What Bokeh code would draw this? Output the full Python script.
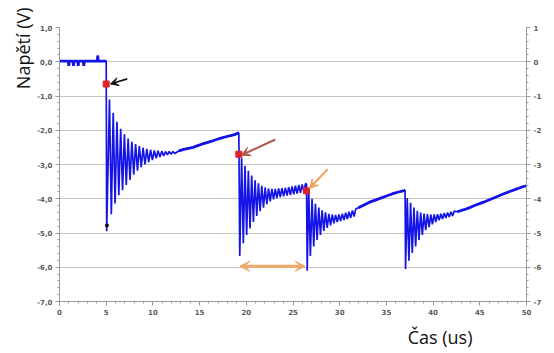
from bokeh.plotting import figure
from bokeh.models import Range1d, LinearAxis, FixedTicker, Arrow, VeeHead, Title
from bokeh.embed import file_html
from bokeh.resources import INLINE

# ---- data (time in us, voltage in V) ----
t_pre = [0.0, 0.95, 1.0, 1.05, 1.45, 1.5, 1.55, 1.95, 2.0, 2.05, 2.55, 2.6, 2.65, 4.05, 4.1, 4.15, 5.0]
v_pre = [0.02, 0.02, -0.12, 0.02, 0.02, -0.12, 0.02, 0.02, -0.12, 0.02, 0.02, -0.12, 0.02, 0.02, 0.18, 0.02, 0.02]

e1_t = [5.05, 5.35, 5.55, 5.75, 5.95, 6.15, 6.35, 6.55, 6.75, 6.95, 7.15, 7.35, 7.55, 7.75, 7.95, 8.15, 8.35,
        8.55, 8.75, 8.95, 9.15, 9.35, 9.55, 9.75, 9.95, 10.15, 10.35, 10.55, 10.75, 10.95, 11.15, 11.35,
        11.55, 11.75, 11.95, 12.15, 12.35]
e1_v = [-4.95, -1.10, -4.45, -1.49, -4.14, -1.75, -3.90, -1.96, -3.75, -2.12, -3.60, -2.24, -3.45, -2.34,
        -3.30, -2.40, -3.18, -2.46, -3.08, -2.51, -3.00, -2.54, -2.93, -2.57, -2.87, -2.59, -2.82, -2.60,
        -2.78, -2.61, -2.75, -2.62, -2.72, -2.62, -2.70, -2.62, -2.68]

r1_t = [12.8, 13.3, 13.8, 14.3, 14.8, 15.3, 15.8, 16.3, 16.8, 17.3, 17.8, 18.3, 18.8, 19.15, 19.2]
r1_v = [-2.60, -2.56, -2.53, -2.50, -2.45, -2.40, -2.36, -2.32, -2.27, -2.23, -2.19, -2.16, -2.12, -2.08, -2.08]

e2_t = [19.30, 19.50, 19.68, 19.86, 20.04, 20.22, 20.40, 20.58, 20.76, 20.94, 21.12, 21.30, 21.48, 21.66,
        21.84, 22.02, 22.20, 22.38, 22.56, 22.74, 22.92, 23.10, 23.28, 23.46, 23.64, 23.82, 24.00, 24.18,
        24.36, 24.54, 24.72, 24.90, 25.08, 25.26, 25.44, 25.62, 25.80, 25.98, 26.16, 26.34, 26.45]
e2_v = [-5.67, -2.80, -5.30, -3.04, -5.06, -3.18, -4.87, -3.32, -4.68, -3.46, -4.50, -3.55, -4.36, -3.62,
        -4.26, -3.67, -4.16, -3.70, -4.08, -3.71, -4.02, -3.71, -3.98, -3.70, -3.95, -3.69, -3.93, -3.68,
        -3.91, -3.66, -3.89, -3.64, -3.87, -3.62, -3.85, -3.60, -3.83, -3.58, -3.80, -3.56, -3.57]

e3_t = [26.52, 26.68, 26.86, 27.04, 27.22, 27.40, 27.58, 27.76, 27.94, 28.12, 28.30, 28.48, 28.66, 28.84,
        29.02, 29.20, 29.38, 29.56, 29.74, 29.92, 30.10, 30.28, 30.46, 30.64, 30.82, 31.00, 31.18, 31.36,
        31.54, 31.72]
e3_v = [-6.10, -3.75, -5.67, -4.00, -5.39, -4.15, -5.20, -4.26, -5.06, -4.34, -4.94, -4.40, -4.85, -4.44,
        -4.78, -4.46, -4.72, -4.47, -4.68, -4.46, -4.65, -4.44, -4.62, -4.41, -4.59, -4.38, -4.56, -4.34,
        -4.52, -4.30]

r3_t = [32.0, 32.6, 33.2, 33.8, 34.4, 35.0, 35.6, 36.2, 36.9, 37.0]
r3_v = [-4.26, -4.18, -4.10, -4.04, -3.98, -3.92, -3.86, -3.81, -3.76, -3.75]

e4_t = [37.05, 37.23, 37.41, 37.59, 37.77, 37.95, 38.13, 38.31, 38.49, 38.67, 38.85, 39.03, 39.21, 39.39,
        39.57, 39.75, 39.93, 40.11, 40.29, 40.47, 40.65, 40.83, 41.01, 41.19, 41.37, 41.55, 41.73, 41.91,
        42.09, 42.27]
e4_v = [-6.05, -3.98, -5.81, -4.12, -5.58, -4.26, -5.39, -4.35, -5.20, -4.40, -5.06, -4.43, -4.92, -4.45,
        -4.83, -4.46, -4.75, -4.46, -4.68, -4.45, -4.63, -4.44, -4.59, -4.42, -4.56, -4.40, -4.53, -4.38,
        -4.50, -4.36]

r4_t = [42.6, 43.3, 44.0, 44.7, 45.4, 46.1, 46.8, 47.5, 48.2, 48.9, 49.6, 50.0]
r4_v = [-4.38, -4.32, -4.25, -4.17, -4.10, -4.02, -3.94, -3.86, -3.79, -3.72, -3.65, -3.62]

# highlighted points (red) and the small black marker
dot_t = [5.0, 19.2, 26.45]
dot_v = [-0.65, -2.70, -3.77]
blk_t = [5.08]
blk_v = [-4.78]

# tick values and labels
y_ticks = [1, 0, -1, -2, -3, -4, -5, -6, -7]
y_left_labels = ["1,0", "0,0", "-1,0", "-2,0", "-3,0", "-4,0", "-5,0", "-6,0", "-7,0"]
y_right_labels = ["1", "0", "-1", "-2", "-3", "-4", "-5", "-6", "-7"]
x_ticks = [0, 5, 10, 15, 20, 25, 30, 35, 40, 45, 50]
x_labels = ["0", "5", "10", "15", "20", "25", "30", "35", "40", "45", "50"]

y_title = "Napětí (V)"
x_title = "Čas (us)"

# ---- figure ----
t_all = t_pre + e1_t + r1_t + e2_t + e3_t + r3_t + e4_t + r4_t
v_all = v_pre + e1_v + r1_v + e2_v + e3_v + r3_v + e4_v + r4_v

p = figure(width=554, height=353, output_backend="svg", toolbar_location=None,
           x_range=Range1d(0, 50), y_range=Range1d(-7, 1),
           min_border_left=59, min_border_right=28, min_border_top=27, min_border_bottom=42)
p.title.visible = False
p.outline_line_color = None
p.background_fill_color = "white"
p.border_fill_color = "white"

p.xgrid.grid_line_color = None
p.ygrid.grid_line_color = "#c6c6c6"
p.ygrid.grid_line_width = 1

x_minor = [i * 1.0 for i in range(0, 51)]
y_minor = [-7 + i * 0.2 for i in range(0, 41)]

axis_col = "#9a9a9a"
lab_col = "#5a5a5a"

def style_axis(ax):
    ax.axis_line_color = axis_col
    ax.major_tick_line_color = axis_col
    ax.minor_tick_line_color = axis_col
    ax.major_tick_out = 4
    ax.major_tick_in = 0
    ax.minor_tick_out = 2
    ax.minor_tick_in = 0
    ax.major_label_text_font = "DejaVu Sans"
    ax.major_label_text_font_style = "bold"
    ax.major_label_text_font_size = "7px"
    ax.major_label_text_color = lab_col

p.xaxis.ticker = FixedTicker(ticks=x_ticks, minor_ticks=x_minor)
p.xaxis.major_label_overrides = {k: s for k, s in zip(x_ticks, x_labels)}
p.xaxis.major_label_standoff = 3
style_axis(p.xaxis[0])

p.yaxis.ticker = FixedTicker(ticks=y_ticks, minor_ticks=y_minor)
p.yaxis.major_label_overrides = {k: s for k, s in zip(y_ticks, y_left_labels)}
p.yaxis.major_label_standoff = 3
style_axis(p.yaxis[0])

ax_r = LinearAxis(ticker=FixedTicker(ticks=y_ticks, minor_ticks=y_minor),
                  major_label_overrides={k: s for k, s in zip(y_ticks, y_right_labels)},
                  major_label_standoff=3)
style_axis(ax_r)
p.add_layout(ax_r, "right")

blue = "#1414e6"
p.line(t_all, v_all, line_color=blue, line_width=1.7)
for tt, vv in [(t_pre, v_pre), (r1_t, r1_v), (r3_t, r3_v), (r4_t, r4_v)]:
    p.line(tt, vv, line_color=blue, line_width=2.8)

p.scatter(blk_t, blk_v, marker="circle", size=3, color="black")
p.scatter(dot_t, dot_v, marker="square", size=6, fill_color="#e0202a", line_color="#e0202a")

# arrows
p.add_layout(Arrow(x_start=7.25, y_start=-0.50, x_end=5.45, y_end=-0.65, line_color="#111111",
                   line_width=1.6, end=VeeHead(size=8, fill_color="#111111", line_color="#111111")))
p.add_layout(Arrow(x_start=23.1, y_start=-2.27, x_end=19.45, y_end=-2.73, line_color="#b05a50",
                   line_width=2, end=VeeHead(size=9, fill_color="#b05a50", line_color="#b05a50")))
p.add_layout(Arrow(x_start=28.7, y_start=-3.14, x_end=26.75, y_end=-3.70, line_color="#f0a060",
                   line_width=2, end=VeeHead(size=9, fill_color="#f0a060", line_color="#f0a060")))
p.add_layout(Arrow(x_start=19.3, y_start=-5.97, x_end=26.3, y_end=-5.97, line_color="#efa868",
                   line_width=3,
                   start=VeeHead(size=10, fill_color="#efa868", line_color="#efa868"),
                   end=VeeHead(size=10, fill_color="#efa868", line_color="#efa868")))

# axis titles
p.add_layout(Title(text=y_title, align="right", offset=-20, standoff=0, text_font="Open Sans",
                   text_font_size="18px", text_font_style="normal", text_color="#111111"), "left")
p.add_layout(Title(text=x_title, align="right", offset=54, text_font="Open Sans",
                   text_font_size="18px", text_font_style="normal", text_color="#111111"), "below")

open("out.html", "w").write(file_html(p, INLINE))
